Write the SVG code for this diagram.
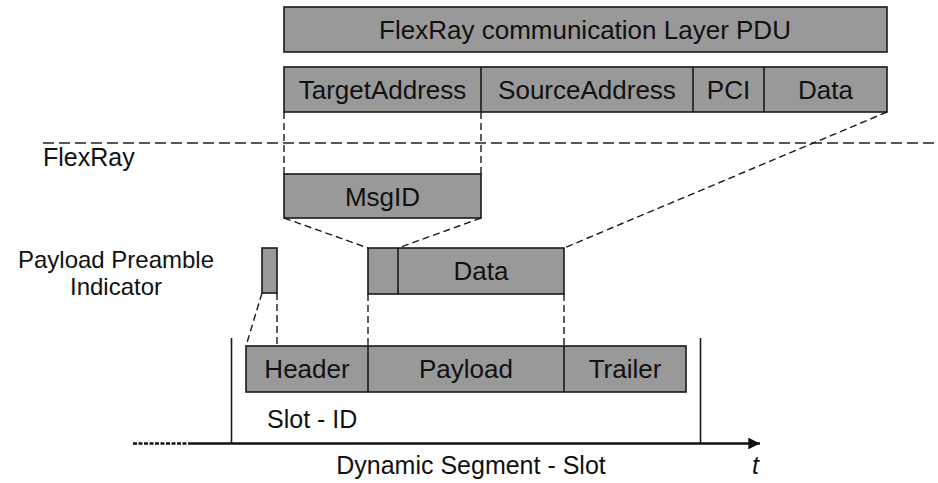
<svg xmlns="http://www.w3.org/2000/svg" width="938" height="483" viewBox="0 0 938 483">
  <defs>
    <style>
      .box { fill: #999999; stroke: #1a1a1a; stroke-width: 1.6; }
      .sep { stroke: #1a1a1a; stroke-width: 1.6; fill: none; }
      .lbl { font-family: "Liberation Sans", Arial, sans-serif; font-size: 26px; fill: #111111; text-anchor: middle; }
      .side { font-family: "Liberation Sans", Arial, sans-serif; font-size: 25px; fill: #111111; }
      .note { font-family: "Liberation Sans", Arial, sans-serif; font-size: 24px; fill: #111111; text-anchor: middle; }
      .dash { stroke: #1a1a1a; stroke-width: 1.4; stroke-dasharray: 7 4; fill: none; }
      .layer { stroke: #222222; stroke-width: 1.4; stroke-dasharray: 11 5; fill: none; }
      .tick { stroke: #1a1a1a; stroke-width: 1.6; fill: none; }
      .axis { stroke: #111111; stroke-width: 2.6; fill: none; }
    </style>
    <marker id="arrow" viewBox="0 0 10 10" refX="10" refY="5" markerWidth="6.5" markerHeight="4.5" markerUnits="strokeWidth" orient="auto">
      <path d="M0,0 L10,5 L0,10 z" fill="#111111"/>
    </marker>
  </defs>

  <!-- layer boundary -->
  <line class="layer" x1="43" y1="143" x2="938" y2="143"/>
  <text class="side" x="43" y="166">FlexRay</text>

  <!-- communication layer PDU -->
  <g id="pdu">
    <rect class="box" x="284" y="7" width="603" height="45"/>
    <text class="lbl" x="585" y="39">FlexRay communication Layer PDU</text>
  </g>

  <!-- PDU fields -->
  <g id="pdu-fields">
    <rect class="box" x="284" y="67" width="603" height="45"/>
    <line class="sep" x1="481" y1="67" x2="481" y2="112"/>
    <line class="sep" x1="693" y1="67" x2="693" y2="112"/>
    <line class="sep" x1="764" y1="67" x2="764" y2="112"/>
    <text class="lbl" x="382.5" y="99">TargetAddress</text>
    <text class="lbl" x="587" y="99">SourceAddress</text>
    <text class="lbl" x="728.5" y="99">PCI</text>
    <text class="lbl" x="825.5" y="99">Data</text>
  </g>

  <!-- message id -->
  <g id="msgid">
    <rect class="box" x="284" y="174" width="197" height="44"/>
    <text class="lbl" x="382.5" y="206">MsgID</text>
  </g>

  <!-- payload content -->
  <g id="payload-data">
    <rect class="box" x="368" y="248" width="196" height="46"/>
    <line class="sep" x1="398" y1="248" x2="398" y2="294"/>
    <text class="lbl" x="481" y="280">Data</text>
  </g>

  <!-- payload preamble indicator -->
  <g id="ppi">
    <rect class="box" x="262" y="248" width="15" height="45"/>
    <text class="note" x="116" y="268">Payload Preamble</text>
    <text class="note" x="116" y="295">Indicator</text>
  </g>

  <!-- frame -->
  <g id="frame">
    <rect class="box" x="246" y="346" width="440" height="46"/>
    <line class="sep" x1="368" y1="346" x2="368" y2="392"/>
    <line class="sep" x1="564" y1="346" x2="564" y2="392"/>
    <text class="lbl" x="307" y="378">Header</text>
    <text class="lbl" x="466" y="378">Payload</text>
    <text class="lbl" x="625" y="378">Trailer</text>
  </g>

  <!-- time axis -->
  <g id="timeline">
    <line class="tick" x1="231.5" y1="338" x2="231.5" y2="443"/>
    <line class="tick" x1="700.5" y1="338" x2="700.5" y2="443"/>
    <line class="axis" x1="133" y1="443.5" x2="188" y2="443.5" stroke-dasharray="4 1.5"/>
    <line class="axis" x1="188" y1="443.5" x2="760" y2="443.5" marker-end="url(#arrow)"/>
    <text class="side" x="267" y="428">Slot - ID</text>
    <text class="side" text-anchor="middle" x="471" y="474">Dynamic Segment - Slot</text>
    <text class="side" x="752" y="474" font-style="italic">t</text>
  </g>

  <!-- mapping connectors -->
  <g id="connectors">
    <line class="dash" x1="284" y1="112" x2="284" y2="174"/>
    <line class="dash" x1="481" y1="112" x2="481" y2="174"/>
    <line class="dash" x1="887" y1="112" x2="564" y2="248"/>
    <line class="dash" x1="284" y1="218" x2="368" y2="248"/>
    <line class="dash" x1="481" y1="218" x2="398" y2="248"/>
    <line class="dash" x1="262" y1="293" x2="246" y2="346"/>
    <line class="dash" x1="277" y1="293" x2="277" y2="346"/>
    <line class="dash" x1="368" y1="294" x2="368" y2="346"/>
    <line class="dash" x1="564" y1="294" x2="564" y2="346"/>
  </g>
</svg>
